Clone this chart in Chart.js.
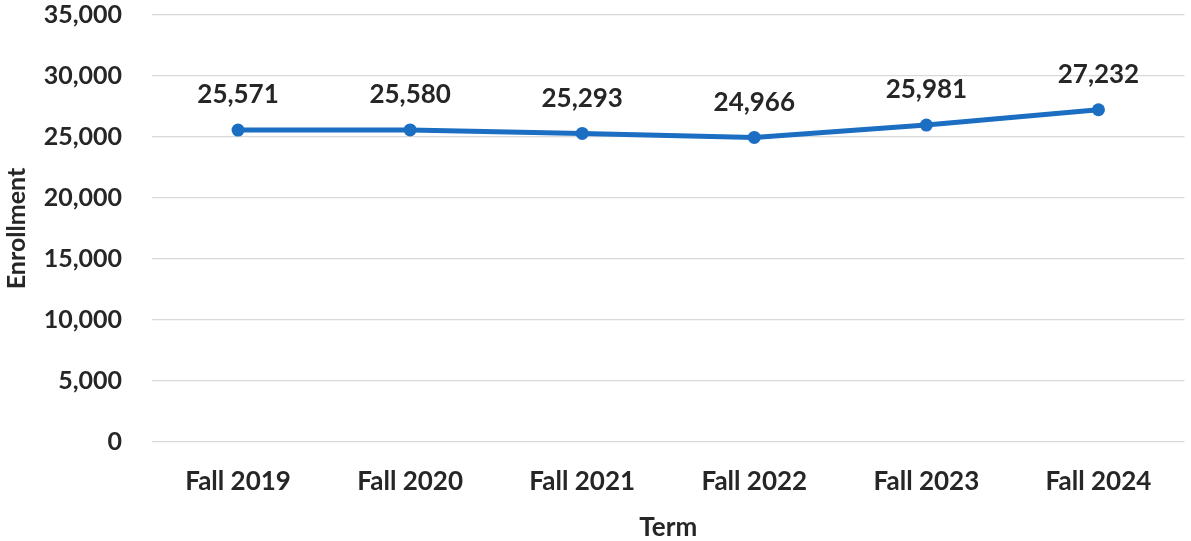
<!DOCTYPE html>
<html>
<head>
<meta charset="utf-8">
<script src="https://cdn.jsdelivr.net/npm/chart.js@4.4.1/dist/chart.umd.min.js"></script>
<style>
  html, body { margin: 0; padding: 0; background: #ffffff; }
  #wrap { width: 1191px; height: 541px; }
</style>
</head>
<body>
<div id="wrap"><canvas id="chart" width="1191" height="541"></canvas></div>
<script>
// Fall enrollment by term
const terms = ['Fall 2019', 'Fall 2020', 'Fall 2021', 'Fall 2022', 'Fall 2023', 'Fall 2024'];
const enrollment = [25571, 25580, 25293, 24966, 25981, 27232];
const yTicks = [0, 5000, 10000, 15000, 20000, 25000, 30000, 35000];

const FONT = 'Lato, "Open Sans", sans-serif';
const TEXT = '#262626';
const LINE = '#1b6ec2';

const fmt = v => Number(v).toLocaleString('en-US');

// writes each point's value above its marker
const valueLabels = {
  id: 'valueLabels',
  afterDatasetsDraw(chart) {
    const ctx = chart.ctx;
    const meta = chart.getDatasetMeta(0);
    ctx.save();
    ctx.font = 'bold 26px ' + FONT;
    ctx.fillStyle = TEXT;
    ctx.textAlign = 'center';
    ctx.textBaseline = 'middle';
    meta.data.forEach((pt, i) => {
      ctx.fillText(fmt(enrollment[i]), pt.x, pt.y - 35);
    });
    ctx.restore();
  }
};

new Chart(document.getElementById('chart'), {
  type: 'line',
  data: {
    labels: terms,
    datasets: [{
      data: enrollment,
      borderColor: LINE,
      backgroundColor: LINE,
      borderWidth: 5,
      pointRadius: 6.5,
      pointHoverRadius: 6.5,
      pointBackgroundColor: LINE,
      pointBorderColor: LINE,
      pointBorderWidth: 0,
      tension: 0
    }]
  },
  options: {
    responsive: false,
    animation: false,
    events: [],
    layout: { padding: { top: 15, right: 6, left: 0, bottom: 0 } },
    plugins: { legend: { display: false }, tooltip: { enabled: false } },
    scales: {
      x: {
        offset: true,
        grid: { display: false, drawTicks: false },
        border: { display: false },
        ticks: { color: TEXT, font: { family: FONT, size: 26, weight: 'bold' }, padding: 24 },
        title: { display: true, text: 'Term', color: TEXT, font: { family: FONT, size: 26, weight: 'bold', lineHeight: 1 }, padding: { top: 6, bottom: 0 } },
        afterFit(scale) { scale.height = 99; }
      },
      y: {
        min: 0,
        max: 35000,
        afterBuildTicks(scale) { scale.ticks = yTicks.map(v => ({ value: v })); },
        grid: { color: '#d9d9d9', lineWidth: 1.3, drawTicks: false },
        border: { display: false },
        ticks: { color: TEXT, font: { family: FONT, size: 25, weight: 'bold' }, padding: 30, callback: v => fmt(v) },
        title: { display: true, text: 'Enrollment', color: TEXT, font: { family: FONT, size: 25, weight: 'bold' }, padding: { top: 2, bottom: 0 } },
        afterFit(scale) {
          scale.width = 152;
          // keep the tick-label gap from pushing the plot area down
          scale.paddingTop = 10;
          scale.paddingBottom = 10;
        }
      }
    }
  },
  plugins: [valueLabels]
});
</script>
</body>
</html>
